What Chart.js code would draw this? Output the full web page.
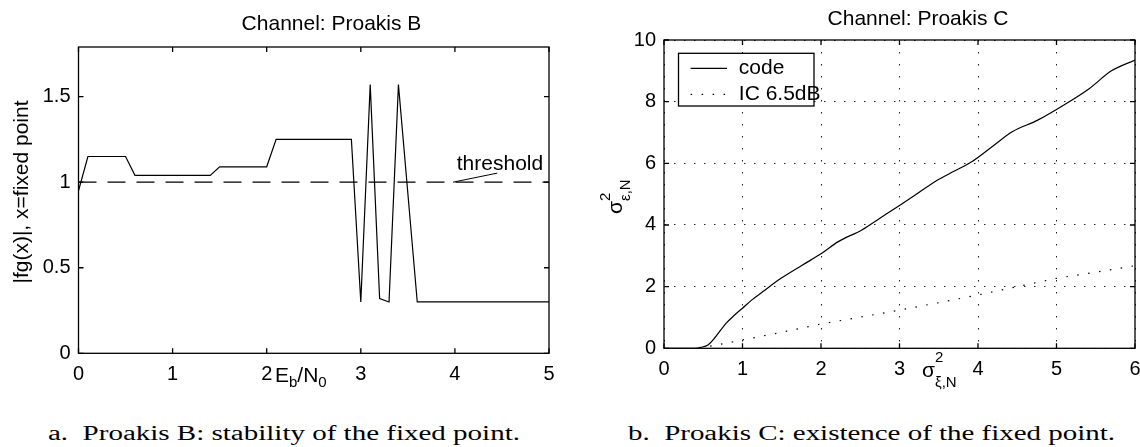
<!DOCTYPE html>
<html>
<head>
<meta charset="utf-8">
<script src="https://cdn.jsdelivr.net/npm/chart.js@4.4.0/dist/chart.umd.min.js"></script>
<style>
  html, body { margin: 0; padding: 0; background: #fff; overflow: hidden; }
  body { width: 1140px; height: 447px; position: relative; }
  canvas { position: absolute; top: 0; }
  #chartB { left: 0; }
  #chartC { left: 570px; }
  .caption {
    position: absolute; top: 423px;
    font-family: "Liberation Serif", serif; font-size: 20px; line-height: 20px;
    white-space: nowrap; transform-origin: 0 0; color: #000;
  }
</style>
</head>
<body>
<canvas id="chartB" width="570" height="400"></canvas>
<canvas id="chartC" width="590" height="400"></canvas>
<div class="caption" id="capA">a.&nbsp; Proakis B: stability of the fixed point.</div>
<div class="caption" id="capB">b.&nbsp; Proakis C: existence of the fixed point.</div>
<script>
// Proakis B: |fg(x)| at the fixed point vs Eb/N0
const ebnoB = [0, 0.1, 0.5, 0.6, 1.4, 1.5, 2.0, 2.1, 2.9, 3.0, 3.1, 3.2, 3.3, 3.4, 3.6, 5.0];
const fgB = [0.95, 1.15, 1.15, 1.04, 1.04, 1.09, 1.09, 1.25, 1.25, 0.3, 1.57, 0.32, 0.3, 1.57, 0.3, 0.3];
const thresholdX = [0, 5];
const thresholdY = [1, 1];
const xTicksB = [0, 1, 2, 3, 4, 5];
const yTicksB = [0, 0.5, 1, 1.5];

// Proakis C: sigma_eps vs sigma_xi
const sigXiCode = [0, 0.4, 0.47, 0.56, 0.65, 0.79, 0.9, 1.0, 1.12, 1.26, 1.49, 1.75, 2.01, 2.22,
  2.52, 2.75, 3.01, 3.2, 3.46, 3.7, 3.92, 4.2, 4.44, 4.76, 5.1, 5.42, 5.7, 6.0];
const sigEpsCode = [0, 0, 0.03, 0.11, 0.35, 0.81, 1.08, 1.3, 1.57, 1.84, 2.27, 2.68, 3.08, 3.46,
  3.84, 4.22, 4.65, 4.97, 5.42, 5.75, 6.05, 6.58, 7.03, 7.4, 7.9, 8.43, 9.0, 9.35];
const sigXiIC = [0.45, 0.55, 1.0, 1.5, 2.0, 2.5, 3.0, 3.5, 4.0, 4.5, 5.0, 5.5, 6.0];
const sigEpsIC = [0, 0.05, 0.27, 0.52, 0.79, 1.01, 1.24, 1.48, 1.73, 2.0, 2.27, 2.47, 2.68];
const xTicksC = [0, 1, 2, 3, 4, 5, 6];
const yTicksC = [0, 2, 4, 6, 8, 10];

const FONT = '"Liberation Sans", Arial, sans-serif';
Chart.defaults.font.family = FONT;
Chart.defaults.color = '#000';

const toXY = (xs, ys) => xs.map((x, i) => ({ x: x, y: ys[i] }));

// linear axis with fixed ticks and fixed box size
function makeAxis(min, max, ticks, size, isX, grid) {
  return {
    type: 'linear',
    position: isX ? 'bottom' : 'left',
    min: min,
    max: max,
    afterBuildTicks: s => { s.ticks = ticks.map(v => ({ value: v })); },
    afterFit: s => { if (isX) s.height = size; else s.width = size; },
    ticks: {
      font: { size: 20 },
      color: '#000',
      padding: isX ? 9.5 : 8,
      maxRotation: 0,
      autoSkip: false,
      callback: v => String(v)
    },
    grid: grid || { display: false, drawTicks: false },
    border: grid ? { display: false, dash: grid.dash } : { display: false }
  };
}

// box around the axes with inward ticks on all four sides
const frame = {
  id: 'frame',
  afterDatasetsDraw(chart) {
    const { ctx, chartArea: a, scales: { x, y } } = chart;
    ctx.save();
    ctx.setLineDash([]);
    ctx.strokeStyle = '#000';
    ctx.lineWidth = 1.3;
    ctx.beginPath();
    x.ticks.forEach(t => {
      const px = x.getPixelForValue(t.value);
      ctx.moveTo(px, a.bottom); ctx.lineTo(px, a.bottom - 5);
      ctx.moveTo(px, a.top); ctx.lineTo(px, a.top + 5);
    });
    y.ticks.forEach(t => {
      const py = y.getPixelForValue(t.value);
      ctx.moveTo(a.left, py); ctx.lineTo(a.left + 5, py);
      ctx.moveTo(a.right, py); ctx.lineTo(a.right - 5, py);
    });
    ctx.stroke();
    ctx.strokeRect(a.left, a.top, a.right - a.left, a.bottom - a.top);
    ctx.restore();
  }
};

// draws text runs with sub/superscripts: [{t, size, dy}] or {sup, sub}
function drawRuns(ctx, runs, x, y) {
  ctx.textAlign = 'left';
  ctx.textBaseline = 'alphabetic';
  runs.forEach(r => {
    ctx.font = r.size + 'px ' + FONT;
    if (r.sup !== undefined) {
      const w1 = ctx.measureText(r.sup).width;
      const w2 = ctx.measureText(r.sub).width;
      ctx.fillText(r.sup, x, y - r.up);
      ctx.fillText(r.sub, x, y + r.down);
      x += Math.max(w1, w2);
    } else {
      ctx.fillText(r.t, x, y + (r.dy || 0));
      x += ctx.measureText(r.t).width;
    }
  });
}

function title(ctx, text, cx, base) {
  ctx.font = '21px ' + FONT;
  ctx.fillStyle = '#000';
  ctx.textAlign = 'center';
  ctx.textBaseline = 'alphabetic';
  ctx.fillText(text, cx, base);
}

const labelsB = {
  id: 'labelsB',
  afterDraw(chart) {
    const { ctx, scales: { x, y } } = chart;
    ctx.save();
    ctx.fillStyle = '#000';
    title(ctx, 'Channel: Proakis B', 331.5, 30);
    // y label
    ctx.save();
    ctx.translate(22.5, 192);
    ctx.rotate(-Math.PI / 2);
    ctx.font = '21px ' + FONT;
    ctx.textAlign = 'center';
    ctx.textBaseline = 'middle';
    ctx.fillText('|fg(x)|, x=fixed point', 0, 0);
    ctx.restore();
    // x label
    drawRuns(ctx, [
      { t: 'E', size: 21 }, { t: 'b', size: 15, dy: 5 },
      { t: '/N', size: 21 }, { t: '0', size: 15, dy: 5 }
    ], 275, 381.7);
    // threshold annotation
    ctx.strokeStyle = '#000';
    ctx.lineWidth = 1;
    ctx.beginPath();
    ctx.moveTo(x.getPixelForValue(3.98), y.getPixelForValue(1.0));
    ctx.lineTo(x.getPixelForValue(4.45), y.getPixelForValue(1.053));
    ctx.stroke();
    ctx.font = '21px ' + FONT;
    ctx.textAlign = 'left';
    ctx.textBaseline = 'alphabetic';
    ctx.fillText('threshold', x.getPixelForValue(4.02), y.getPixelForValue(1.073));
    ctx.restore();
  }
};

const labelsC = {
  id: 'labelsC',
  afterDraw(chart) {
    const { ctx } = chart;
    ctx.save();
    ctx.fillStyle = '#000';
    title(ctx, 'Channel: Proakis C', 348, 25);
    // y label, rotated
    ctx.save();
    ctx.translate(52, 214);
    ctx.rotate(-Math.PI / 2);
    drawRuns(ctx, [
      { t: '\u03c3', size: 21 },
      { sup: '2', sub: '\u03b5,N', size: 15, up: 12, down: 8 }
    ], 0, 0);
    ctx.restore();
    // x label
    drawRuns(ctx, [
      { t: '\u03c3', size: 21 },
      { sup: '2', sub: '\u03be,N', size: 15, up: 15, down: 10 }
    ], 352, 377);
    // legend box
    const box = { x: 108.5, y: 53.3, w: 135.5, h: 52.7 };
    ctx.fillStyle = '#fff';
    ctx.fillRect(box.x, box.y, box.w, box.h);
    ctx.strokeStyle = '#000';
    ctx.lineWidth = 1.3;
    ctx.setLineDash([]);
    ctx.strokeRect(box.x, box.y, box.w, box.h);
    chart.data.datasets.forEach((ds, i) => {
      const ry = 68.3 + i * 26;
      ctx.save();
      ctx.strokeStyle = ds.borderColor;
      ctx.lineWidth = ds.borderWidth;
      ctx.setLineDash(ds.borderDash || []);
      ctx.beginPath();
      ctx.moveTo(120.6, ry);
      ctx.lineTo(157, ry);
      ctx.stroke();
      ctx.restore();
      ctx.fillStyle = '#000';
      ctx.font = '21px ' + FONT;
      ctx.textAlign = 'left';
      ctx.textBaseline = 'middle';
      ctx.fillText(ds.label, 168.8, ry);
    });
    ctx.restore();
  }
};

new Chart(document.getElementById('chartB'), {
  type: 'line',
  data: {
    datasets: [
      { label: 'fixed point', data: toXY(ebnoB, fgB), borderColor: '#000', borderWidth: 1.2,
        pointRadius: 0, tension: 0, fill: false },
      { label: 'threshold', data: toXY(thresholdX, thresholdY), borderColor: '#000', borderWidth: 1.2,
        borderDash: [18, 11], pointRadius: 0, tension: 0, fill: false }
    ]
  },
  options: {
    responsive: false,
    animation: false,
    devicePixelRatio: 1,
    layout: { padding: { left: 0, top: 47, right: 21, bottom: 0 } },
    plugins: { legend: { display: false }, tooltip: { enabled: false } },
    scales: {
      x: makeAxis(0, 5, xTicksB, 46.7, true),
      y: makeAxis(0, 1.79, yTicksB, 78.5, false)
    }
  },
  plugins: [frame, labelsB]
});

const dotGridX = { display: true, drawTicks: false, color: '#222', lineWidth: 1, dash: [1.5, 10.5] };
const dotGridY = { display: true, drawTicks: false, color: '#222', lineWidth: 1, dash: [1.5, 8.5] };

new Chart(document.getElementById('chartC'), {
  type: 'line',
  data: {
    datasets: [
      { label: 'code', data: toXY(sigXiCode, sigEpsCode), borderColor: '#000', borderWidth: 1.2,
        pointRadius: 0, cubicInterpolationMode: 'monotone', fill: false },
      { label: 'IC 6.5dB', data: toXY(sigXiIC, sigEpsIC), borderColor: '#000', borderWidth: 1.2,
        borderDash: [1.5, 9.5], pointRadius: 0, tension: 0, fill: false }
    ]
  },
  options: {
    responsive: false,
    animation: false,
    devicePixelRatio: 1,
    layout: { padding: { left: 0, top: 40, right: 25, bottom: 0 } },
    plugins: { legend: { display: false }, tooltip: { enabled: false } },
    scales: {
      x: makeAxis(0, 6, xTicksC, 51.7, true, dotGridX),
      y: makeAxis(0, 10, yTicksC, 94, false, dotGridY)
    }
  },
  plugins: [frame, labelsC]
});

function fitCaption(id, left, width) {
  const el = document.getElementById(id);
  const w = el.getBoundingClientRect().width;
  el.style.left = left + 'px';
  el.style.transform = 'scaleX(' + (width / w) + ')';
}
fitCaption('capA', 48, 472);
fitCaption('capB', 628, 487);
</script>
</body>
</html>
